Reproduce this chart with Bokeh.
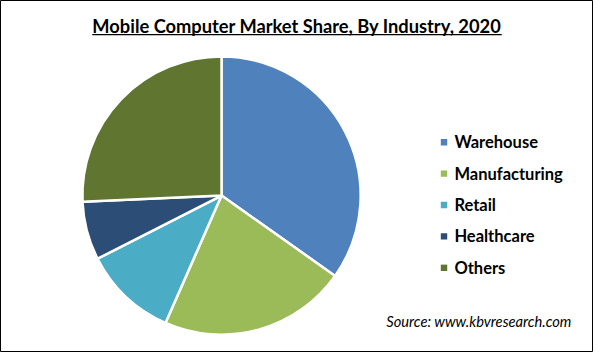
import numpy as np
from bokeh.plotting import figure
from bokeh.models import ColumnDataSource, Range1d
from bokeh.core.properties import value
from bokeh.embed import file_html
from bokeh.resources import INLINE

title_text = "Mobile Computer Market Share, By Industry, 2020"
categories = ["Warehouse", "Manufacturing", "Retail", "Healthcare", "Others"]
shares = [34.8, 21.8, 10.9, 6.8, 25.7]
colors = ["#4F81BD", "#9BBB59", "#4BACC6", "#2C4D75", "#5F7530"]
source_text = "Source: www.kbvresearch.com"

# reference frame is 601x360; figure drawn at 593x352 and scaled
RW, RH = 601, 360
W, H = 593, 352
p = figure(width=W, height=H, output_backend="svg", toolbar_location=None,
           x_range=Range1d(0, RW), y_range=Range1d(0, RH),
           min_border=0, background_fill_color="white",
           border_fill_color="white")
p.axis.visible = False
p.grid.visible = False
p.outline_line_color = "black"
p.outline_line_width = 1

def fy(y):
    return RH - y

# pie
cx, cy, r = 224, fy(199.5), 141
vals = np.array(shares, dtype=float)
frac = vals / vals.sum()
cum = np.concatenate([[0], np.cumsum(frac)])
start = np.pi / 2 - cum[1:] * 2 * np.pi
end = np.pi / 2 - cum[:-1] * 2 * np.pi
src = ColumnDataSource(dict(cat=categories, start=start, end=end, color=colors))
p.wedge(x=cx, y=cy, radius=r, start_angle="start", end_angle="end",
        fill_color="color", line_color="white", line_width=2.5, source=src)

# title
p.text(x=[300.5], y=[fy(26.5)], text=[title_text], text_font=value("Lato"),
       text_font_style="bold", text_font_size="18.3px", text_align="center",
       text_baseline="middle", text_color="black")
p.segment(x0=[93], y0=[fy(35)], x1=[508], y1=[fy(35)], line_color="black", line_width=1.3)

# legend
step = 32.1
ly = [fy(145 + i * step) for i in range(len(categories))]
p.rect(x=[449.5] * len(categories), y=ly, width=6.5, height=6.5, fill_color=colors,
       line_color=None)
p.text(x=[460] * len(categories), y=ly, text=categories, text_font=value("Lato"),
       text_font_style="bold", text_font_size="16.5px", text_baseline="middle",
       text_color="black")

# source
p.text(x=[391], y=[fy(328)], text=[source_text], text_font=value("Lato"),
       text_font_style="italic", text_font_size="14.7px", text_baseline="middle",
       text_color="black")

open("out.html", "w").write(file_html(p, INLINE))
